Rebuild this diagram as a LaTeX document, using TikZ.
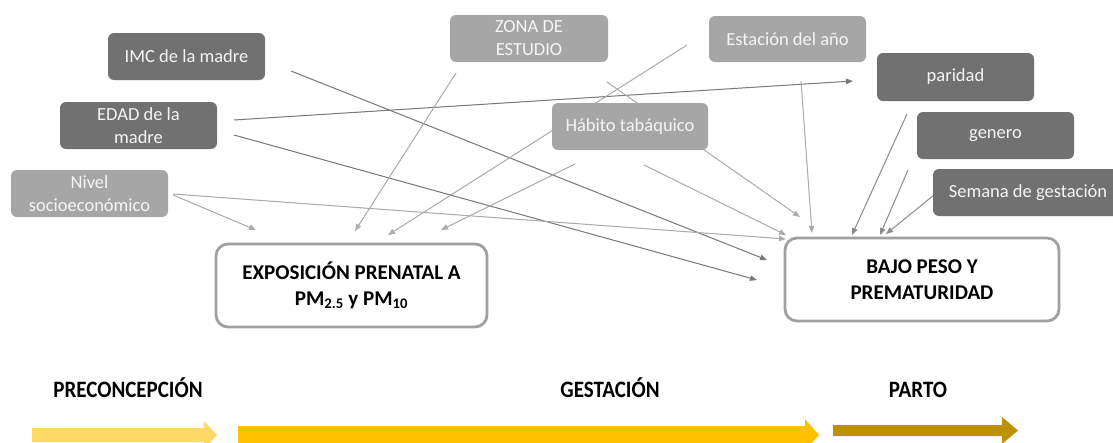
\documentclass[tikz,border=0pt]{standalone}
\usepackage{fontspec}
\setmainfont{Carlito}
\usetikzlibrary{arrows.meta,backgrounds}
\definecolor{darkbox}{HTML}{717171}
\definecolor{lightbox}{HTML}{A6A6A6}
\definecolor{darkline}{HTML}{7A7A7A}
\definecolor{midline}{HTML}{8C8C8C}
\definecolor{lightline}{HTML}{ABABAB}
\definecolor{bigborder}{HTML}{A0A0A0}
\definecolor{arrA}{HTML}{FFD966}
\definecolor{arrB}{HTML}{FFC000}
\definecolor{arrC}{HTML}{BF9000}
\tikzset{
  factor/.style={rounded corners=6pt, inner sep=0pt, align=center, text=white!96!black,
    minimum height=47pt, minimum width=157pt,
    font=\fontsize{18.5}{23}\selectfont},
  darkf/.style={factor, fill=darkbox},
  lightf/.style={factor, fill=lightbox},
  bigbox/.style={draw=bigborder, line width=2.8pt, rounded corners=12pt, fill=white,
    inner sep=0pt, align=center, minimum height=83pt,
    font=\fontsize{21}{25.5}\selectfont\bfseries},
  conn/.style={line width=1pt, -{Triangle[length=7pt,width=5.5pt]}},
  dconn/.style={conn, draw=darkline, fill=darkline},
  mconn/.style={conn, draw=midline, fill=midline},
  lconn/.style={conn, draw=lightline, fill=lightline},
  phase/.style={anchor=base, inner sep=0pt, yscale=1.12, font=\fontsize{21}{25}\selectfont\bfseries},
}
\begin{document}
\begin{tikzpicture}[x=1pt,y=-1pt]
\useasboundingbox (0,0) rectangle (1113,442);
\begin{scope}
\clip (0,0) rectangle (1113,442);
% factor boxes
\node[darkf]  (imc)  at (186.5,56.5) {IMC de la madre};
\node[darkf]  (edad) at (138.5,125.5) {EDAD de la\\madre};
\node[lightf] (niv)  at (89.5,193.5) {Nivel\\socioeconómico};
\node[lightf, minimum width=158pt] (zona) at (529,38.5) {ZONA DE\\ESTUDIO};
\node[lightf, minimum height=46pt] (est) at (787.5,39) {Estación del año};
\node[lightf, minimum width=156pt] (hab) at (630,126.5) {Hábito tabáquico};
\node[darkf, minimum height=48pt] (par) at (955.5,77) {paridad};
\node[darkf] (gen) at (995.5,135.5) {genero};
\node[darkf, minimum width=190pt] (sem) at (1028,192.5) {Semana de gestación};
% outcome boxes
\node[bigbox, minimum width=271pt] (expo) at (351.5,285.5) {EXPOSICIÓN PRENATAL A\\PM\textsubscript{2.5} y PM\textsubscript{10}};
\node[bigbox, minimum width=274pt] (bajo) at (922,279.5) {BAJO PESO Y\\PREMATURIDAD};
% connector end points
\coordinate (imcS) at (291,71);   \coordinate (imcE) at (767,260);
\coordinate (edS1) at (234,120);  \coordinate (edE1) at (853,81);
\coordinate (edS2) at (234,135);  \coordinate (edE2) at (757,280);
\coordinate (niS1) at (173,195);  \coordinate (niE1) at (256,230);
\coordinate (niS2) at (173,194);  \coordinate (niE2) at (786,239);
\coordinate (zoS1) at (456,73);   \coordinate (zoE1) at (355,231);
\coordinate (zoS2) at (607,82);   \coordinate (zoE2) at (800,217);
\coordinate (esS1) at (687,45);   \coordinate (esE1) at (388,235);
\coordinate (esS2) at (801,81);   \coordinate (esE2) at (812,233);
\coordinate (haS1) at (575,164);  \coordinate (haE1) at (441,230);
\coordinate (haS2) at (644,165);  \coordinate (haE2) at (786,235);
\coordinate (paS)  at (907,114);  \coordinate (paE)  at (852,235);
\coordinate (geS)  at (908,170);  \coordinate (geE)  at (880,235);
\coordinate (seS)  at (934,195);  \coordinate (seE)  at (886,234);
\begin{scope}[on background layer]
\draw[dconn] (imcS) -- (imcE);
\draw[dconn] (edS1) -- (edE1);
\draw[dconn] (edS2) -- (edE2);
\draw[lconn] (niS1) -- (niE1);
\draw[lconn] (niS2) -- (niE2);
\draw[lconn] (zoS1) -- (zoE1);
\draw[lconn] (zoS2) -- (zoE2);
\draw[lconn] (esS1) -- (esE1);
\draw[lconn] (esS2) -- (esE2);
\draw[lconn] (haS1) -- (haE1);
\draw[lconn] (haS2) -- (haE2);
\draw[mconn] (paS) -- (paE);
\draw[mconn] (geS) -- (geE);
\draw[mconn] (seS) -- (seE);
\end{scope}
% phases
\node[phase] (pre) at (128,397) {PRECONCEPCIÓN};
\node[phase] (ges) at (610,397) {GESTACIÓN};
\node[phase] (par2) at (918,397) {PARTO};
\fill[arrA] (32,428) -- (204,428) -- (204,421) -- (217,435) -- (204,449) -- (204,442) -- (32,442) -- cycle;
\fill[arrB] (238,426) -- (805,426) -- (805,419) -- (819,435) -- (805,451) -- (805,444) -- (238,444) -- cycle;
\fill[arrC] (833,425) -- (1002,425) -- (1002,417) -- (1018,430.5) -- (1002,444) -- (1002,436) -- (833,436) -- cycle;
\end{scope}
\end{tikzpicture}
\end{document}
